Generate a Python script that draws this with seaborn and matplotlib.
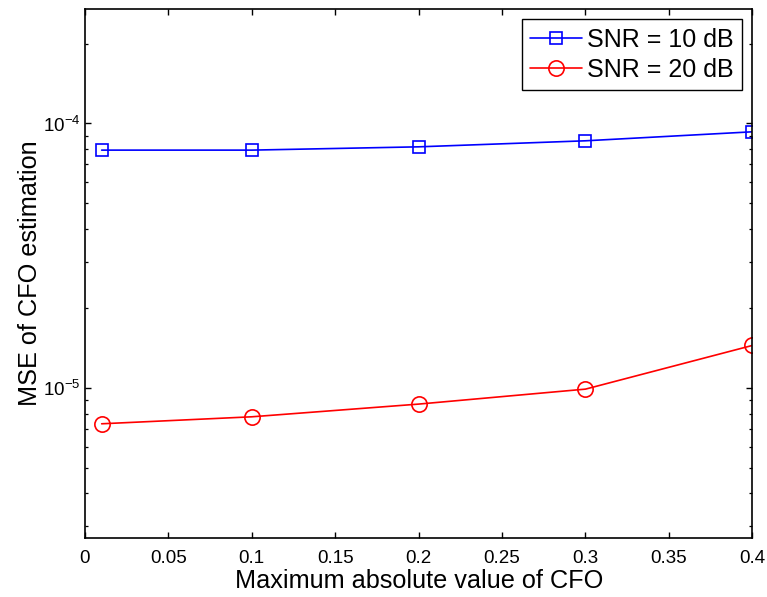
import numpy as np
import pandas as pd
import matplotlib
matplotlib.use("Agg")
import matplotlib.pyplot as plt
import seaborn as sns
from matplotlib.ticker import LogLocator, NullFormatter, FixedLocator

# ---- data ----
cfo_max = [0.01, 0.1, 0.2, 0.3, 0.4]
mse_snr10 = [7.93e-5, 7.93e-5, 8.16e-5, 8.60e-5, 9.30e-5]
mse_snr20 = [7.33e-6, 7.79e-6, 8.70e-6, 9.91e-6, 1.449e-5]
series_labels = ["SNR = 10 dB", "SNR = 20 dB"]
x_ticks = [0, 0.05, 0.1, 0.15, 0.2, 0.25, 0.3, 0.35, 0.4]
x_tick_labels = ["0", "0.05", "0.1", "0.15", "0.2", "0.25", "0.3", "0.35", "0.4"]
x_label = "Maximum absolute value of CFO"
y_label = "MSE of CFO estimation"

sns.set_theme(style="white")
plt.rcParams['font.family'] = ['Liberation Sans', 'DejaVu Sans']
plt.rcParams['mathtext.fontset'] = 'custom'
plt.rcParams['mathtext.rm'] = 'Liberation Sans'
plt.rcParams['mathtext.it'] = 'Liberation Sans'
plt.rcParams['mathtext.default'] = 'regular'
plt.rcParams['text.color'] = 'black'
plt.rcParams['axes.labelcolor'] = 'black'
plt.rcParams['xtick.color'] = 'black'
plt.rcParams['ytick.color'] = 'black'

fig = plt.figure(figsize=(7.67, 5.97), dpi=100)
ax = fig.add_axes([0.1108, 0.0993, 0.870, 0.8851])

df1 = pd.DataFrame({"x": cfo_max, "y": mse_snr10})
df2 = pd.DataFrame({"x": cfo_max, "y": mse_snr20})

sns.lineplot(data=df1, x="x", y="y", ax=ax, color="#0000ff", marker="s",
             markersize=8.8, markerfacecolor="none", markeredgecolor="#0000ff",
             markeredgewidth=1.2, linewidth=1.2, label=series_labels[0])
sns.lineplot(data=df2, x="x", y="y", ax=ax, color="#ff0000", marker="o",
             markersize=11, markerfacecolor="none", markeredgecolor="#ff0000",
             markeredgewidth=1.2, linewidth=1.2, label=series_labels[1])

ax.set_yscale("log")
ax.set_xlim(0, 0.4)
ax.set_ylim(2.72e-6, 2.7e-4)
ax.xaxis.set_major_locator(FixedLocator(x_ticks))
ax.set_xticklabels(x_tick_labels)
ax.yaxis.set_major_locator(LogLocator(base=10, numticks=10))
ax.yaxis.set_minor_locator(LogLocator(base=10, subs=np.arange(2, 10), numticks=10))
ax.yaxis.set_minor_formatter(NullFormatter())

ax.tick_params(axis="both", which="major", direction="in", length=4.5, width=1,
               labelsize=13.5, top=True, right=True, bottom=True, left=True,
               colors="black", labelcolor="black")
ax.tick_params(axis="x", which="major", pad=9)
ax.tick_params(axis="y", which="major", pad=3)
ax.tick_params(axis="y", which="minor", direction="in", length=2.4, width=0.9,
               left=True, right=True)
for s in ax.spines.values():
    s.set_color("black")
    s.set_linewidth(1.2)

ax.set_xlabel(x_label, fontsize=18.2, labelpad=1, color="black")
ax.set_ylabel(y_label, fontsize=18.2, labelpad=1, color="black")

leg = ax.legend(loc="upper right", fontsize=18, frameon=True, fancybox=False,
                edgecolor="black", framealpha=1, borderpad=0.33,
                handlelength=2.1, handletextpad=0.2, labelspacing=0.25,
                borderaxespad=0.4)
leg.get_frame().set_linewidth(1.0)
for t in leg.get_texts():
    t.set_color("black")

fig.savefig("out.png", dpi=100)
